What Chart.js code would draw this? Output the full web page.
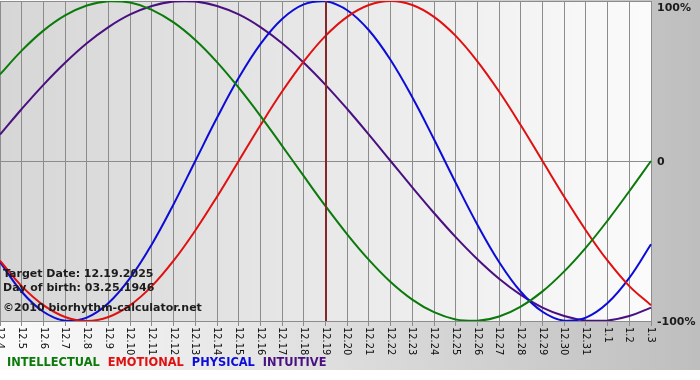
<!DOCTYPE html>
<html>
<head>
<meta charset="utf-8">
<script src="https://cdn.jsdelivr.net/npm/chart.js@4/dist/chart.umd.min.js"></script>
<style>
  html, body { margin: 0; padding: 0; background: #ffffff; }
  #wrap { position: relative; width: 700px; height: 370px; }
</style>
</head>
<body>
<div id="wrap"><canvas id="c"></canvas></div>
<script>
// ---- data ----
const categories = ['12.4','12.5','12.6','12.7','12.8','12.9','12.10','12.11','12.12','12.13','12.14','12.15','12.16','12.17','12.18','12.19','12.20','12.21','12.22','12.23','12.24','12.25','12.26','12.27','12.28','12.29','12.30','12.31','1.1','1.2','1.3'];
const intellectual = [54.1,69.0,81.5,91.0,97.2,99.9,99.0,94.5,86.6,75.6,61.8,45.8,28.2,9.5,-9.5,-28.2,-45.8,-61.8,-75.6,-86.6,-94.5,-99.0,-99.9,-97.2,-91.0,-81.5,-69.0,-54.1,-37.2,-18.9,0];
const emotional = [-62.3,-78.2,-90.1,-97.5,-100,-97.5,-90.1,-78.2,-62.3,-43.4,-22.3,0,22.3,43.4,62.3,78.2,90.1,97.5,100,97.5,90.1,78.2,62.3,43.4,22.3,0,-22.3,-43.4,-62.3,-78.2,-90.1];
const physical = [-63.1,-81.7,-94.2,-99.8,-97.9,-88.8,-73.1,-52.0,-27.0,0,27.0,52.0,73.1,88.8,97.9,99.8,94.2,81.7,63.1,39.8,13.6,-13.6,-39.8,-63.1,-81.7,-94.2,-99.8,-97.9,-88.8,-73.1,-52.0];
const intuitive = [16.5,32.5,47.6,61.4,73.6,83.7,91.6,96.9,99.7,99.7,96.9,91.6,83.7,73.6,61.4,47.6,32.5,16.5,0,-16.5,-32.5,-47.6,-61.4,-73.6,-83.7,-91.6,-96.9,-99.7,-99.7,-96.9,-91.6];
const seriesNames = ['INTELLECTUAL','EMOTIONAL','PHYSICAL','INTUITIVE'];
const yTickValues = [-100, 0, 100];
const yTickLabels = ['-100%', '0', '100%'];
const targetCategory = '12.19';
const infoLines = ['Target Date: 12.19.2025', 'Day of birth: 03.25.1946', '\u00A92010 biorhythm-calculator.net'];

// ---- styles ----
const colors = ['#0b7a0b', '#e01010', '#0c0cd8', '#4a1080'];
const gridColor = '#8c8c8c';

const drawPlugin = {
  id: 'bio',
  beforeDraw(chart) {
    const ctx = chart.ctx, a = chart.chartArea;
    ctx.save();
    let g = ctx.createLinearGradient(0, 0, chart.width, 0);
    g.addColorStop(0, '#fbfbfb');
    g.addColorStop(1, '#bebebe');
    ctx.fillStyle = g;
    ctx.fillRect(0, 0, chart.width, chart.height);
    g = ctx.createLinearGradient(a.left, 0, a.right, 0);
    g.addColorStop(0, '#d6d6d6');
    g.addColorStop(1, '#fbfbfb');
    ctx.fillStyle = g;
    ctx.fillRect(a.left, a.top, a.right - a.left, a.bottom - a.top);
    ctx.restore();
  },
  afterDatasetsDraw(chart) {
    const ctx = chart.ctx, a = chart.chartArea, xs = chart.scales.x;
    ctx.save();
    const tx = Math.round(xs.getPixelForValue(categories.indexOf(targetCategory)));
    ctx.strokeStyle = '#862828';
    ctx.lineWidth = 2;
    ctx.beginPath();
    ctx.moveTo(tx, a.top);
    ctx.lineTo(tx, a.bottom);
    ctx.stroke();
    ctx.fillStyle = '#1c1c1c';
    ctx.font = 'bold 11px "DejaVu Sans", Verdana, sans-serif';
    ctx.textBaseline = 'alphabetic';
    const ys = [277, 291, 311];
    infoLines.forEach((t, i) => ctx.fillText(t, 3, ys[i]));
    ctx.restore();
  },
  afterDraw(chart) {
    const ctx = chart.ctx, a = chart.chartArea, xs = chart.scales.x, y = chart.scales.y;
    ctx.save();
    // x tick labels, rotated clockwise
    ctx.fillStyle = '#0e0e0e';
    ctx.font = '11px "Liberation Sans Narrow", "DejaVu Sans Condensed", sans-serif';
    ctx.textAlign = 'left';
    ctx.textBaseline = 'middle';
    categories.forEach((lab, i) => {
      const px = xs.getPixelForValue(i);
      ctx.save();
      ctx.translate(px, a.bottom + 6);
      ctx.rotate(Math.PI / 2);
      ctx.fillText(lab, 0, 0);
      ctx.restore();
    });
    // y labels on the right
    ctx.font = 'bold 11px "DejaVu Sans", Verdana, sans-serif';
    ctx.fillStyle = '#1c1c1c';
    yTickValues.forEach((v, i) => {
      let py = y.getPixelForValue(v);
      if (py < a.top + 7) { ctx.textBaseline = 'top'; py = a.top + 2; }
      else { ctx.textBaseline = 'middle'; py += 1; }
      ctx.fillText(yTickLabels[i], a.right + 6, py);
    });
    // legend
    ctx.font = 'bold 11.4px "DejaVu Sans", Verdana, sans-serif';
    ctx.textBaseline = 'alphabetic';
    let lx = 7;
    seriesNames.forEach((n, i) => {
      ctx.fillStyle = colors[i];
      ctx.fillText(n, lx, 366);
      lx += ctx.measureText(n).width + 8;
    });
    ctx.restore();
  }
};

const mk = (label, data, i) => ({
  label, data,
  borderColor: colors[i], backgroundColor: colors[i],
  borderWidth: 2, pointRadius: 0, tension: 0.4, fill: false
});

new Chart(document.getElementById('c'), {
  type: 'line',
  data: {
    labels: categories,
    datasets: [
      mk(seriesNames[0], intellectual, 0),
      mk(seriesNames[1], emotional, 1),
      mk(seriesNames[2], physical, 2),
      mk(seriesNames[3], intuitive, 3)
    ]
  },
  options: {
    responsive: true,
    maintainAspectRatio: false,
    animation: false,
    layout: { padding: { left: 0, right: 0, top: 1, bottom: 0 } },
    plugins: { legend: { display: false }, tooltip: { enabled: false } },
    scales: {
      x: {
        offset: false,
        grid: { color: gridColor, lineWidth: 1, drawTicks: true, tickLength: 5, offset: false },
        border: { display: true, color: gridColor },
        ticks: { display: false },
        afterFit(s) { s.height = 49; }
      },
      y: {
        position: 'right',
        min: -100, max: 100,
        ticks: { display: false, stepSize: 100 },
        grid: { color: gridColor, lineWidth: 1, drawTicks: false },
        border: { display: true, color: gridColor },
        afterFit(s) { s.width = 49; }
      }
    }
  },
  plugins: [drawPlugin]
});
</script>
</body>
</html>
